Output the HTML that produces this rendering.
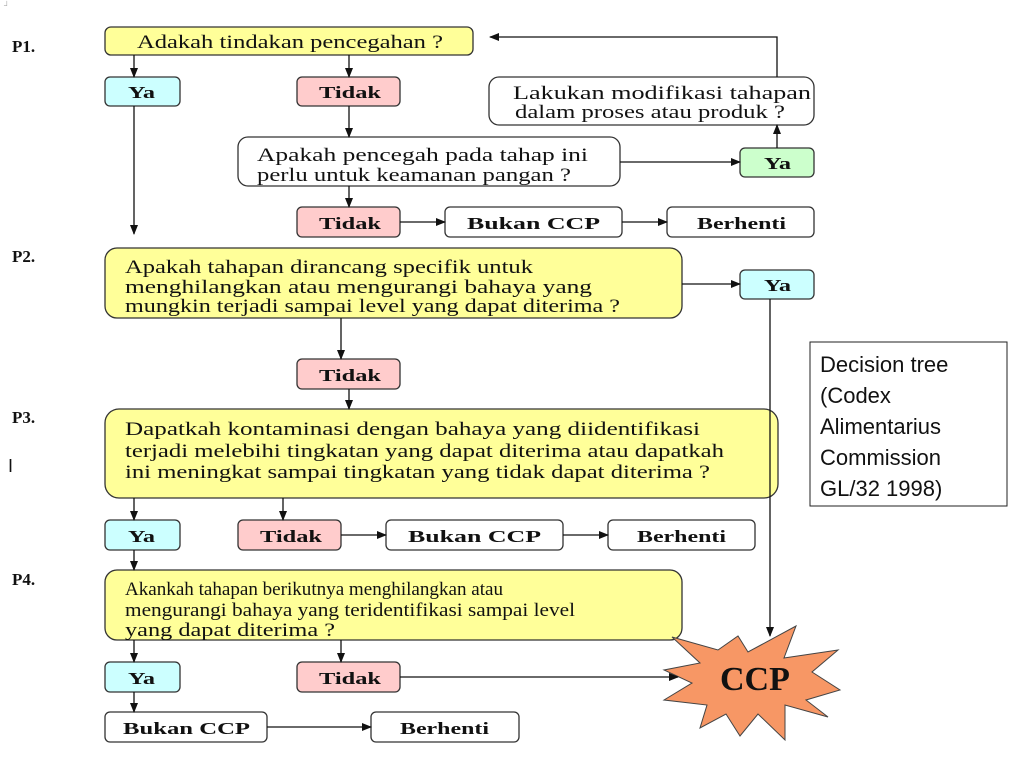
<!DOCTYPE html>
<html><head><meta charset="utf-8"><style>
html,body{margin:0;padding:0;background:#fff;}
svg{display:block}
text{font-family:"Liberation Serif",serif;fill:#111}
.q text{font-size:19px}
.b text,.b{font-size:17px;font-weight:bold}
.d{font-family:'Liberation Sans',sans-serif;font-size:22px}
</style></head><body>
<svg width="1024" height="768" viewBox="0 0 1024 768">
<defs><marker id="a" markerWidth="10" markerHeight="8" refX="9" refY="4" orient="auto" markerUnits="userSpaceOnUse"><path d="M0,0 L10,4 L0,8 z" fill="#111"/></marker></defs>
<g stroke="#333" stroke-width="1.3">
<rect x="105" y="27" width="368" height="28" rx="6" fill="#ffff99"/>
<rect x="105" y="77" width="75" height="29" rx="5" fill="#ccffff"/>
<rect x="297" y="77" width="103" height="29" rx="5" fill="#ffcccc"/>
<rect x="489" y="77" width="325" height="48" rx="10" fill="#fff"/>
<rect x="238" y="137" width="382" height="49" rx="10" fill="#fff"/>
<rect x="740" y="148" width="74" height="29" rx="5" fill="#ccffcc"/>
<rect x="297" y="207" width="103" height="30" rx="5" fill="#ffcccc"/>
<rect x="445" y="207" width="177" height="30" rx="5" fill="#fff"/>
<rect x="667" y="207" width="147" height="30" rx="5" fill="#fff"/>
<rect x="105" y="248" width="577" height="70" rx="12" fill="#ffff99"/>
<rect x="740" y="270" width="74" height="29" rx="5" fill="#ccffff"/>
<rect x="297" y="359" width="103" height="30" rx="5" fill="#ffcccc"/>
<rect x="105" y="409" width="673" height="89" rx="14" fill="#ffff99"/>
<rect x="105" y="520" width="75" height="30" rx="5" fill="#ccffff"/>
<rect x="238" y="520" width="103" height="30" rx="5" fill="#ffcccc"/>
<rect x="386" y="520" width="177" height="30" rx="5" fill="#fff"/>
<rect x="608" y="520" width="147" height="30" rx="5" fill="#fff"/>
<rect x="105" y="570" width="577" height="70" rx="12" fill="#ffff99"/>
<rect x="105" y="662" width="75" height="30" rx="5" fill="#ccffff"/>
<rect x="297" y="662" width="103" height="30" rx="5" fill="#ffcccc"/>
<rect x="105" y="712" width="162" height="30" rx="5" fill="#fff"/>
<rect x="371" y="712" width="148" height="30" rx="5" fill="#fff"/>
</g>
<rect x="810" y="342" width="197" height="164" fill="#fff" stroke="#222" stroke-width="1"/>
<polygon fill="#f79765" stroke="#444" stroke-width="1" points="672,637 718,650 738,636 748,652 796,626 784,658 838,650 812,672 840,690 806,700 828,717 785,705 785,740 758,714 740,736 726,714 700,728 707,705 664,700 692,683 664,670 700,663"/>
<g stroke="#111" stroke-width="1.3" fill="none" marker-end="url(#a)">
<line x1="134" y1="55" x2="134" y2="77"/>
<line x1="349" y1="55" x2="349" y2="77"/>
<line x1="134" y1="106" x2="134" y2="234"/>
<line x1="349" y1="106" x2="349" y2="137"/>
<line x1="349" y1="186" x2="349" y2="207"/>
<line x1="400" y1="222" x2="445" y2="222"/>
<line x1="622" y1="222" x2="667" y2="222"/>
<line x1="620" y1="162" x2="740" y2="162"/>
<line x1="777" y1="148" x2="777" y2="125"/>
<polyline points="777,77 777,37 490,37"/>
<line x1="682" y1="284" x2="740" y2="284"/>
<line x1="770" y1="299" x2="770" y2="636"/>
<line x1="341" y1="318" x2="341" y2="359"/>
<line x1="349" y1="389" x2="349" y2="409"/>
<line x1="134" y1="498" x2="134" y2="520"/>
<line x1="283" y1="498" x2="283" y2="520"/>
<line x1="341" y1="535" x2="386" y2="535"/>
<line x1="563" y1="535" x2="608" y2="535"/>
<line x1="134" y1="550" x2="134" y2="570"/>
<line x1="134" y1="640" x2="134" y2="662"/>
<line x1="341" y1="640" x2="341" y2="662"/>
<line x1="134" y1="692" x2="134" y2="712"/>
<line x1="400" y1="677" x2="678" y2="677"/>
<line x1="267" y1="727" x2="371" y2="727"/>
</g>
<g class="b">
<text x="12" y="52">P1.</text>
<text x="12" y="262">P2.</text>
<text x="12" y="423">P3.</text>
<text x="12" y="585">P4.</text>
</g>
<text x="8" y="472" style="font-family:'Liberation Sans',sans-serif;font-size:18px">I</text>
<text x="4" y="8" style="font-size:8px;fill:#aaa">┘</text>
<g class="q">
<text x="137" y="48" textLength="306" lengthAdjust="spacingAndGlyphs">Adakah tindakan pencegahan ?</text>
<text x="513" y="99" textLength="298" lengthAdjust="spacingAndGlyphs">Lakukan modifikasi tahapan</text>
<text x="515" y="118" textLength="270" lengthAdjust="spacingAndGlyphs">dalam proses atau produk ?</text>
<text x="257" y="161" textLength="331" lengthAdjust="spacingAndGlyphs">Apakah pencegah pada tahap ini</text>
<text x="257" y="181" textLength="314" lengthAdjust="spacingAndGlyphs">perlu untuk keamanan pangan ?</text>
<text x="125" y="273" textLength="408" lengthAdjust="spacingAndGlyphs">Apakah tahapan dirancang specifik untuk</text>
<text x="125" y="293" textLength="467" lengthAdjust="spacingAndGlyphs">menghilangkan atau mengurangi bahaya yang</text>
<text x="125" y="312" textLength="495" lengthAdjust="spacingAndGlyphs">mungkin terjadi sampai level yang dapat diterima ?</text>
<text x="125" y="435" textLength="575" lengthAdjust="spacingAndGlyphs">Dapatkah kontaminasi dengan bahaya yang diidentifikasi</text>
<text x="125" y="457" textLength="599" lengthAdjust="spacingAndGlyphs">terjadi melebihi tingkatan yang dapat diterima atau dapatkah</text>
<text x="125" y="478" textLength="585" lengthAdjust="spacingAndGlyphs">ini meningkat sampai tingkatan yang tidak dapat diterima ?</text>
<text x="125" y="595" textLength="378" lengthAdjust="spacingAndGlyphs">Akankah tahapan berikutnya menghilangkan atau</text>
<text x="125" y="616" textLength="450" lengthAdjust="spacingAndGlyphs">mengurangi bahaya yang teridentifikasi sampai level</text>
<text x="125" y="636" textLength="210" lengthAdjust="spacingAndGlyphs">yang dapat diterima ?</text>
</g>
<g class="b">
<text x="128" y="98" textLength="27" lengthAdjust="spacingAndGlyphs">Ya</text>
<text x="319" y="98" textLength="62" lengthAdjust="spacingAndGlyphs">Tidak</text>
<text x="764" y="169" textLength="27" lengthAdjust="spacingAndGlyphs">Ya</text>
<text x="319" y="229" textLength="62" lengthAdjust="spacingAndGlyphs">Tidak</text>
<text x="467" y="229" textLength="133" lengthAdjust="spacingAndGlyphs">Bukan  CCP</text>
<text x="697" y="229" textLength="89" lengthAdjust="spacingAndGlyphs">Berhenti</text>
<text x="764" y="291" textLength="27" lengthAdjust="spacingAndGlyphs">Ya</text>
<text x="319" y="381" textLength="62" lengthAdjust="spacingAndGlyphs">Tidak</text>
<text x="128" y="542" textLength="27" lengthAdjust="spacingAndGlyphs">Ya</text>
<text x="260" y="542" textLength="62" lengthAdjust="spacingAndGlyphs">Tidak</text>
<text x="408" y="542" textLength="133" lengthAdjust="spacingAndGlyphs">Bukan  CCP</text>
<text x="637" y="542" textLength="89" lengthAdjust="spacingAndGlyphs">Berhenti</text>
<text x="128" y="684" textLength="27" lengthAdjust="spacingAndGlyphs">Ya</text>
<text x="319" y="684" textLength="62" lengthAdjust="spacingAndGlyphs">Tidak</text>
<text x="123" y="734" textLength="127" lengthAdjust="spacingAndGlyphs">Bukan CCP</text>
<text x="400" y="734" textLength="89" lengthAdjust="spacingAndGlyphs">Berhenti</text>
</g>
<text x="720" y="690" style="font-size:34px;font-weight:bold">CCP</text>
<text x="820" y="372" class="d">Decision tree</text>
<text x="820" y="403" class="d">(Codex</text>
<text x="820" y="434" class="d">Alimentarius</text>
<text x="820" y="465" class="d">Commission</text>
<text x="820" y="496" class="d">GL/32 1998)</text>
</svg>
</body></html>
